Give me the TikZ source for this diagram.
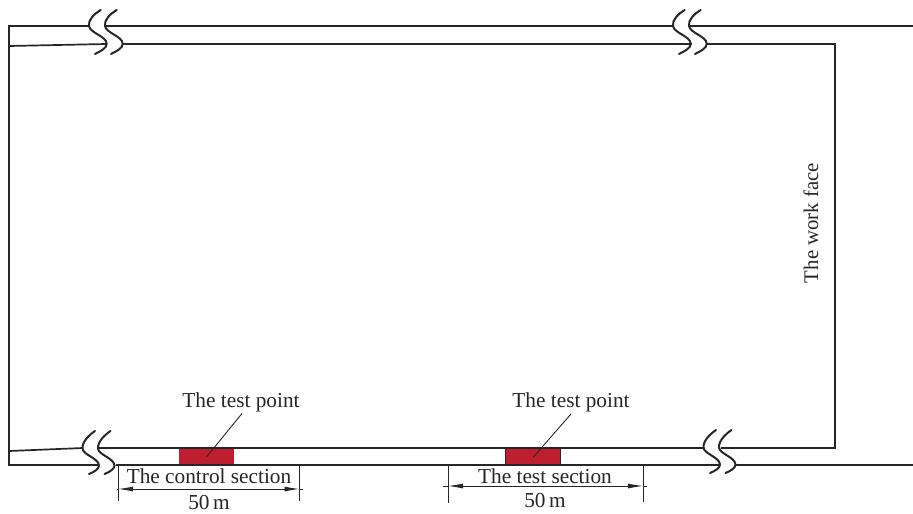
\documentclass[tikz,border=0pt]{standalone}
\usepackage{fontspec}
\setmainfont{Liberation Serif}
\usetikzlibrary{arrows.meta}
\definecolor{ink}{HTML}{262626}
\definecolor{redblock}{HTML}{BE1E2D}
\tikzset{
  wall/.style={draw=ink,line width=1.7pt,line join=miter},
  breakmark/.style={draw=ink,line width=2pt,line cap=round},
  lab/.style={text=ink,font=\fontsize{21.3}{23}\selectfont,inner sep=0pt},
  thin line/.style={draw=ink,line width=0.9pt},
  dim/.style={draw=ink,line width=0.9pt,{Latex[length=15pt,width=5pt]}-{Latex[length=15pt,width=5pt]}},
}
\begin{document}
\begin{tikzpicture}[x=1pt,y=-1pt]
\useasboundingbox (0,0) rectangle (913,514);
% red blocks
\node[fill=redblock,minimum width=55pt,minimum height=17pt,inner sep=0pt,anchor=north west] (ctrl) at (179,448) {};
\node[fill=redblock,draw=ink,line width=1.4pt,minimum width=55pt,minimum height=17pt,inner sep=0pt,anchor=north west] (test) at (505,448) {};
% corners and line ends
\coordinate (tl) at (9,26); \coordinate (bl) at (9,465);
\coordinate (a1) at (89,26); \coordinate (a2) at (105,26); \coordinate (a3) at (673,26); \coordinate (a4) at (689,26); \coordinate (a5) at (913,26);
\coordinate (b0) at (9,46); \coordinate (b1) at (106,44); \coordinate (b2) at (123,44); \coordinate (b3) at (692,44); \coordinate (b4) at (707,44); \coordinate (tr) at (835,44);
\coordinate (c0) at (9,451); \coordinate (c1) at (83,448); \coordinate (c2) at (99,448); \coordinate (c3) at (703.5,448); \coordinate (c4) at (720.5,448); \coordinate (br) at (835,448);
\coordinate (d1) at (99,465); \coordinate (d2) at (116,465); \coordinate (d3) at (719,465); \coordinate (d4) at (736,465); \coordinate (d5) at (913,465);
% walls
\draw[wall] (a1) -- (tl) -- (bl) -- (d1);
\draw[wall] (a2) -- (a3);
\draw[wall] (a4) -- (a5);
\draw[wall] (b0) -- (b1);
\draw[wall] (b2) -- (b3);
\draw[wall] (b4) -- (tr) -- (br) -- (c4);
\draw[wall] (c3) -- (c2);
\draw[wall] (c0) -- (c1);
\draw[wall] (d2) -- (d3);
\draw[wall] (d4) -- (d5);
% break marks
\foreach \dx in {0,16,584,600}{
  \draw[breakmark] (100.7+\dx,10) .. controls (94+\dx,14) and (88+\dx,20) .. (89+\dx,26)
     .. controls (90+\dx,33) and (106+\dx,36) .. (106.7+\dx,43.5)
     .. controls (107+\dx,48) and (101+\dx,51) .. (95+\dx,54);
}
\foreach \px/\py in {95/431,110.5/431,716/430,731.5/430}{
  \draw[breakmark] (\px,\py) .. controls (\px-6,\py+4) and (\px-13,\py+11) .. (\px-12.5,\py+17.5)
     .. controls (\px-12,\py+24) and (\px+3.5,\py+27) .. (\px+4,\py+34.5)
     .. controls (\px+4,\py+38) and (\px-1,\py+41) .. (\px-6,\py+43);
}
% labels
\node[lab] (tp1) at (241,402) {The test point};
\node[lab] (tp2) at (571,402) {The test point};
\node[lab] (cs) at (209,476.5) {The control section};
\node[lab] (ts) at (545,476.5) {The test section};
\node[lab] (d50a) at (209,503) {50\,m};
\node[lab] (d50b) at (545,501) {50\,m};
\node[lab,rotate=90,font=\fontsize{20.8}{23}\selectfont] (wf) at (811,223) {The work face};
% leaders
\draw[thin line] (242,413.5) -- (ctrl.center);
\draw[thin line] (571,414) -- (test.center);
% dimensions
\coordinate (e1) at (118,465); \coordinate (e2) at (118,501); \coordinate (e3) at (299.5,465); \coordinate (e4) at (299.5,501);
\coordinate (f1) at (448,465); \coordinate (f2) at (448,503); \coordinate (f3) at (643,465); \coordinate (f4) at (643,502);
\draw[thin line] (e1) -- (e2);
\draw[thin line] (e3) -- (e4);
\draw[thin line] (f1) -- (f2);
\draw[thin line] (f3) -- (f4);
\coordinate (g1) at (118,489); \coordinate (g2) at (299.5,489);
\coordinate (h1) at (448,486); \coordinate (h2) at (643,486);
\draw[dim] (g1) -- (g2);
\draw[dim] (h1) -- (h2);
\draw[thin line] (g2) -- ++(3,0);
\draw[thin line] (g1) -- ++(-1,0);
\draw[thin line] (h1) -- ++(-5,0);
\draw[thin line] (h2) -- ++(4,0);
\end{tikzpicture}
\end{document}
